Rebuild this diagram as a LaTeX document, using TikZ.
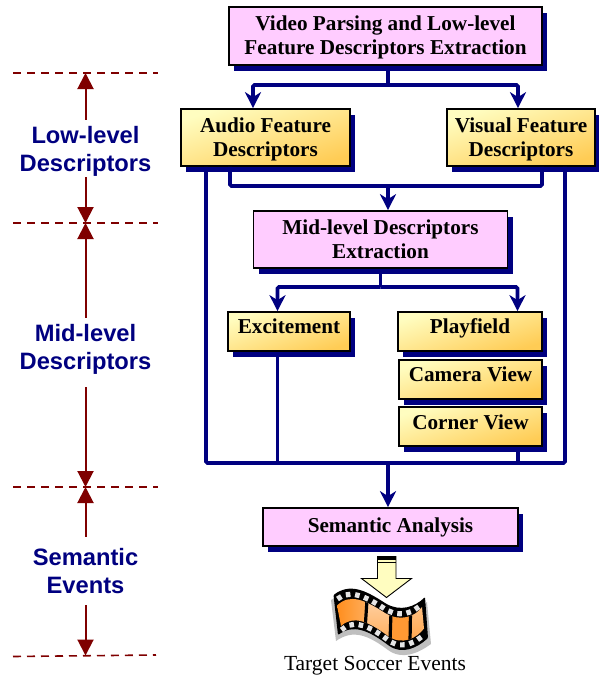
\documentclass[tikz,border=0pt]{standalone}
\usepackage{fontspec}
\setmainfont{Liberation Serif}
\newfontfamily\labelfont{Liberation Sans}
\usetikzlibrary{arrows.meta,shadows,decorations.markings}
\definecolor{flowblue}{HTML}{000080}
\definecolor{rulered}{HTML}{7F0000}
\definecolor{boxpink}{HTML}{FFCCFF}
\definecolor{boxlight}{HTML}{FFFDC0}
\definecolor{boxgold}{HTML}{FFCC55}
\tikzset{
	basebox/.style = {draw=black, line width=1.7pt, inner sep=0pt, align=center,
		font=\fontsize{21.2}{24}\selectfont\bfseries,
		drop shadow={shadow xshift=5pt, shadow yshift=-5.5pt, fill=flowblue, opacity=1}},
	pinkbox/.style = {basebox, fill=boxpink},
	goldbox/.style = {basebox, top color=boxlight, bottom color=boxgold, shading angle=18},
	twobox/.style = {text height=47pt, text depth=10pt},
	lowbox/.style = {goldbox, text height=21pt, text depth=18pt},
	flowline/.style = {draw=flowblue, line width=3.8pt, rounded corners=1.5pt},
	flowarrow/.style = {flowline, -{Stealth[length=16pt,width=16pt,inset=5pt]}},
	levelrule/.style = {draw=rulered, line width=1.6pt, dash pattern=on 8pt off 6pt},
	levelarrow/.style = {draw=rulered, line width=2pt, -{Triangle[length=16pt,width=16pt]}},
	levellabel/.style = {inner sep=0pt, align=center, text=flowblue,
		font=\fontsize{23.7}{28}\selectfont\labelfont\bfseries},
	filmhole/.style = {decoration={markings, mark=between positions 3pt and 1 step 9.3pt with
		{\fill[black!10] (-2.3,-2.6) rectangle (2.3,2.6);}}, postaction={decorate}}
}
\begin{document}
\begin{tikzpicture}[x=1pt,y=-1pt]
	\useasboundingbox (0,0) rectangle (598,675);
	% level rules
	\coordinate (ruleA) at (85.5,73);
	\coordinate (ruleB) at (85.5,223);
	\coordinate (ruleC) at (85.5,487);
	\coordinate (ruleD) at (85.5,655.5);
	\draw[levelrule] (13,73) -- (158,73);
	\draw[levelrule] (13,223) -- (158,223);
	\draw[levelrule] (13,487) -- (158,487);
	\draw[levelrule] (13,656.5) -- (156,655);
	% level labels
	\node[levellabel, minimum height=57pt] (lowlevel) at (85.5,151.5) {Low-level\\Descriptors};
	\node[levellabel, minimum height=69pt] (midlevel) at (85.5,349.5) {Mid-level\\Descriptors};
	\node[levellabel, minimum height=68pt] (semlevel) at (85.5,571) {Semantic\\Events};
	\draw[levelarrow] ([yshift=3pt]lowlevel.north) -- (ruleA);
	\draw[levelarrow] ([yshift=3pt]lowlevel.south) -- (ruleB);
	\draw[levelarrow] ([yshift=-3pt]midlevel.north) -- (ruleB);
	\draw[levelarrow] ([yshift=-3pt]midlevel.south) -- (ruleC);
	\draw[levelarrow] (semlevel.north) -- (ruleC);
	\draw[levelarrow] (semlevel.south) -- (ruleD);
	% boxes
	\node[pinkbox, twobox, text depth=11pt, minimum width=313pt] (parsing) at (385.5,36) {Video Parsing and Low-level\\Feature Descriptors Extraction};
	\node[goldbox, twobox, minimum width=169pt] (audio) at (265.5,137.5) {Audio Feature\\Descriptors};
	\node[goldbox, twobox, minimum width=148pt] (visual) at (521,137.5) {Visual Feature\\Descriptors};
	\node[pinkbox, twobox, minimum width=254pt] (midext) at (380.5,239.5) {Mid-level Descriptors\\Extraction};
	\node[lowbox, minimum width=122pt] (excite) at (289,331.5) {Excitement};
	\node[lowbox, minimum width=144.5pt] (playfield) at (470,331.5) {Playfield};
	\node[lowbox, minimum width=143pt] (camera) at (470.5,379.5) {Camera View};
	\node[lowbox, text height=22pt, text depth=17pt, minimum width=143pt] (corner) at (470.5,426.5) {Corner View};
	\node[pinkbox, text height=24.5pt, text depth=13.5pt, minimum width=255pt] (semantic) at (390.5,527) {Semantic Analysis};
	% connectors
	\coordinate (parsesplit) at (388,85);
	\coordinate (merge) at (388,186);
	\coordinate (midsplit) at (380.5,287);
	\coordinate (bus) at (388,463);
	\draw[flowline] ([xshift=2.5pt]parsing.south) -- (parsesplit);
	\draw[flowarrow] (parsesplit) -| ([xshift=-12.5pt]audio.north);
	\draw[flowarrow] (parsesplit) -| ([xshift=-3pt]visual.north);
	\draw[flowline] ([xshift=-35.5pt]audio.south) |- (merge);
	\draw[flowline] ([xshift=21pt]visual.south) |- (merge);
	\draw[flowarrow] (merge) -- ([xshift=7.5pt]midext.north);
	\draw[flowline] (midext.south) -- (midsplit);
	\draw[flowarrow] (midsplit) -| ([xshift=-11.5pt]excite.north);
	\draw[flowarrow] (midsplit) -| ([xshift=47.5pt]playfield.north);
	\draw[flowline] ([xshift=-59.5pt]audio.south) |- (bus);
	\draw[flowline] ([xshift=44pt]visual.south) |- (bus);
	\draw[flowline] ([xshift=-11.5pt]excite.south) -- ([xshift=-11.5pt]excite.south |- bus);
	\draw[flowline] ([xshift=47.5pt]corner.south) -- ([xshift=47.5pt]corner.south |- bus);
	\draw[flowarrow] (bus) -- ([xshift=-2.5pt]semantic.north);
	% film strip
	\fill[black!25] (331,600) .. controls (350,588) and (365,595) .. (385,608) .. controls (400,617) and (415,612) .. (427,602) -- (431,644) .. controls (417,654) and (402,660) .. (388,650) .. controls (368,635) and (353,629) .. (336,641) -- cycle;
	\fill[black, rounded corners=1pt] (333.5,595) .. controls (350,583) and (365,590) .. (385,603) .. controls (400,612) and (415,607) .. (425,597) -- (428,638) .. controls (417,648) and (402,655) .. (388,645) .. controls (368,630) and (353,624) .. (338,635) -- cycle;
	\path[filmhole] (337,599.5) .. controls (350,589) and (365,596) .. (385,609) .. controls (400,618) and (413,613) .. (423,603);
	\path[filmhole] (341,630.5) .. controls (353,619) and (368,625) .. (388,640) .. controls (402,650) and (415,643) .. (426,633);
	\begin{scope}
		\clip (337,605.5) .. controls (350,593) and (365,600) .. (385,613) .. controls (400,622) and (415,617) .. (422,607) -- (424,628.5) .. controls (417,638) and (402,646) .. (388,636) .. controls (368,621) and (353,615) .. (341,626) -- cycle;
		\shade[left color=orange!90!white, right color=orange!65!white] (335,590) rectangle (366,630);
		\shade[top color=orange!30!white, bottom color=orange!70!white] (366,590) rectangle (390.5,650);
		\fill[orange!80!white] (390.5,600) rectangle (410,650);
		\shade[top color=orange!45!white, bottom color=orange!75!white] (410,600) rectangle (430,650);
		\draw[black, line width=3.2pt] (367,600) -- (365,630);
		\draw[black, line width=3.2pt] (391,612) -- (390,642);
		\draw[black, line width=3.2pt] (410.5,612) -- (410,642);
	\end{scope}
	% block arrow
	\draw[black, line width=0.9pt, fill=boxlight, line join=miter] (377.5,556.5) -- (396,556.5) -- (396,578.5) -- (411.5,578.5) -- (386.5,597.5) -- (361.5,578.5) -- (377.5,578.5) -- cycle;
	\fill[black] (377.5,556) rectangle (396,559.5);
	\draw[black, line width=0.9pt] (377.5,562) -- (396,562);
	\node[inner sep=0pt, font=\fontsize{21.5}{24}\selectfont] (target) at (375,665.5) {Target Soccer Events};
\end{tikzpicture}
\end{document}
